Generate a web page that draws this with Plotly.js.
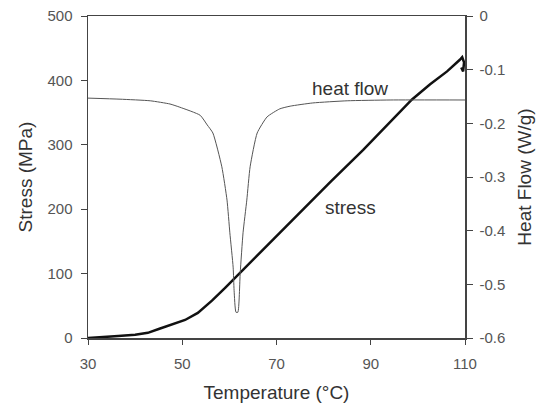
<!DOCTYPE html>
<html>
<head>
<meta charset="utf-8">
<script src="https://cdn.plot.ly/plotly-3.0.1.min.js"></script>
<style>html,body{margin:0;padding:0;background:#fff;}#chart{width:536px;height:405px;}</style>
</head>
<body>
<div id="chart"></div>
<script>
// Temperature (°C) and stress (MPa)
var stressTemp = [30, 33, 36.4, 40, 42.7, 45, 48.5, 50.6, 53.3, 56.3, 59.1, 61.8, 65.0, 69.3, 75.4, 81.4, 88.4, 93.0, 98.7, 102.6, 106.2, 108.9, 109.4, 109.8, 109.6, 109.2];
var stressVal  = [0, 1, 3, 5, 8, 14, 22, 28, 39, 58, 78, 98, 121, 153, 198, 242, 292, 327, 370, 394, 414, 432, 436, 428, 414, 420];

// Temperature (°C) and heat flow (W/g)
var heatTemp = [30, 36.8, 43.2, 47.4, 49.5, 53.8, 55.3, 56.5, 58.4, 59.5, 60.1, 60.8, 61.0, 61.4, 61.8, 62.3, 62.9, 63.7, 64.4, 65.9, 68.0, 70.7, 72.9, 77.7, 85.0, 94.1, 110];
var heatVal  = [-0.153, -0.155, -0.158, -0.164, -0.170, -0.185, -0.203, -0.218, -0.281, -0.343, -0.404, -0.468, -0.511, -0.552, -0.552, -0.479, -0.404, -0.343, -0.281, -0.218, -0.188, -0.173, -0.168, -0.162, -0.158, -0.1565, -0.1565];

var xTicks = [30, 50, 70, 90, 110];
var yTicks = [0, 100, 200, 300, 400, 500];
var y2Ticks = [0, -0.1, -0.2, -0.3, -0.4, -0.5, -0.6];
var y2TickText = ["0", "-0.1", "-0.2", "-0.3", "-0.4", "-0.5", "-0.6"];

var labelHeat = "heat flow";
var labelStress = "stress";

var font = "Liberation Sans, Arial, sans-serif";
var axCol = "#444";

var traces = [
  {x: heatTemp, y: heatVal, type: "scatter", mode: "lines", yaxis: "y2",
   line: {color: "#555", width: 1, shape: "spline", smoothing: 0.5}, hoverinfo: "skip"},
  {x: stressTemp, y: stressVal, type: "scatter", mode: "lines", yaxis: "y",
   line: {color: "#111", width: 2.5}, hoverinfo: "skip"}
];

var layout = {
  width: 536, height: 405,
  margin: {l: 88, r: 71, t: 16, b: 67},
  paper_bgcolor: "#fff", plot_bgcolor: "#fff",
  showlegend: false,
  font: {family: font, color: "#333", size: 15},
  xaxis: {
    range: [30, 110], tickvals: xTicks, ticks: "outside", ticklen: 5, tickcolor: axCol,
    showline: true, linecolor: axCol, linewidth: 1.5, mirror: true, showgrid: false, zeroline: false,
    tickfont: {size: 15, color: "#555"}, ticklabelstandoff: 6,
    title: {text: "Temperature (°C)", font: {size: 19, color: "#333"}, standoff: 15}
  },
  yaxis: {
    range: [0, 500], tickvals: yTicks, ticks: "outside", ticklen: 6, tickcolor: axCol,
    showline: true, linecolor: axCol, linewidth: 1.5, showgrid: false, zeroline: false,
    tickfont: {size: 15, color: "#555"}, ticklabelstandoff: 5,
    title: {text: "Stress (MPa)", font: {size: 19, color: "#333"}, standoff: 10}
  },
  yaxis2: {
    range: [-0.6, 0], overlaying: "y", side: "right", tickvals: y2Ticks, ticktext: y2TickText,
    ticks: "outside", ticklen: 6, tickcolor: axCol,
    showline: true, linecolor: axCol, linewidth: 1.5, showgrid: false, zeroline: false,
    tickfont: {size: 15, color: "#555"}, ticklabelstandoff: 4,
    title: {text: "Heat Flow (W/g)", font: {size: 19, color: "#333"}, standoff: 13}
  },
  yaxis3: {
    range: [-0.6, 0], overlaying: "y", side: "right", tickvals: y2Ticks,
    ticks: "inside", ticklen: 6, tickcolor: axCol, showticklabels: false,
    showline: false, showgrid: false, zeroline: false
  },
  annotations: [
    {x: 85.6, y: 388, xref: "x", yref: "y", text: labelHeat, showarrow: false,
     font: {size: 19, color: "#333", family: font}},
    {x: 85.8, y: 203, xref: "x", yref: "y", text: labelStress, showarrow: false,
     font: {size: 19, color: "#333", family: font}}
  ]
};

Plotly.newPlot("chart", traces, layout, {staticPlot: true, displayModeBar: false});
</script>
</body>
</html>
